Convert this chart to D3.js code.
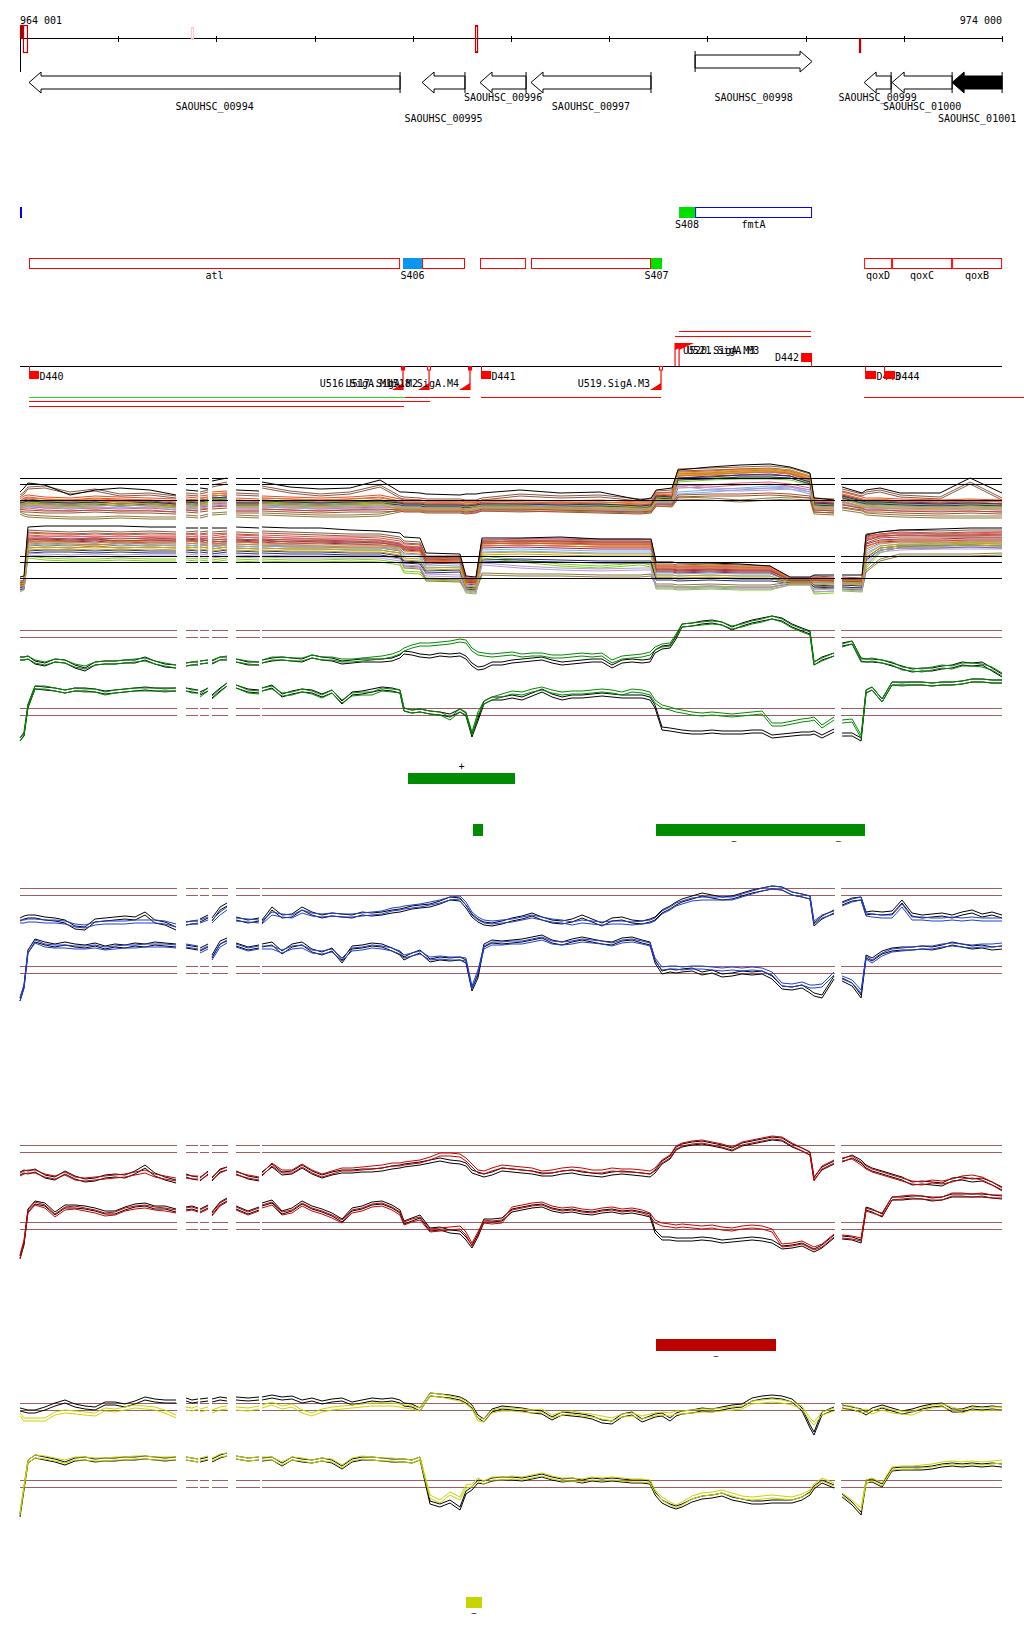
<!DOCTYPE html>
<html>
<head>
<meta charset="utf-8">
<script src="https://cdn.jsdelivr.net/npm/d3@7"></script>
<style>
html,body{margin:0;padding:0;background:#fff;}
svg text{font-family:"DejaVu Sans Mono","Liberation Mono",monospace;font-size:10px;fill:#000;}
</style>
</head>
<body>
<svg id="chart" width="1024" height="1640"></svg>
<script>
// ================= DATA =================
const axisTicks = [964001,965000,966000,967000,968000,969000,970000,971000,972000,973000,974000];
const axisLabels = ["964 001","974 000"];

const geneNames   = ["SAOUHSC_00994","SAOUHSC_00995","SAOUHSC_00996","SAOUHSC_00997","SAOUHSC_00998","SAOUHSC_00999","SAOUHSC_01000","SAOUHSC_01001"];
const geneStarts  = [964093,968095,968685,969204,970875,972596,972881,973492];
const geneEnds    = [967871,968532,969154,970426,972066,972871,973492,974001];
const geneStrands = ["-","-","-","-","+","-","-","-"];
const geneLabelRows = [1,2,0,1,0,0,1,2];
const geneFilled  = [false,false,false,false,false,false,false,true];

const axisMarkStarts = [964001,964031,965742,968634,972544];
const axisMarkEnds   = [964042,964082,965772,968665,972565];
const axisMarkKinds  = ["fill","tall","faint","tall","low"];

const featNames  = ["","S408","fmtA","atl","S406","","","","S407","qoxD","qoxC","qoxB"];
const featStarts = [964001,970712,970875,964093,967901,968095,968685,969204,970426,972596,972881,973492];
const featEnds   = [964021,970875,972066,967871,968095,968532,969154,970426,970538,972881,973492,974001];
const featRows   = [0,0,0,1,1,1,1,1,1,1,1,1];
const featTypes  = ["blue","green","blue","red","cyan","red","red","red","green","red","red","red"];

const boxNames   = ["D440","D441","D442","D443","D444"];
const boxStarts  = [964093,968695,971954,972606,972799];
const boxEnds    = [964194,968797,972066,972718,972911];
const boxStrands = ["-","-","+","-","-"];

const promNames   = ["U516.SigA.M1","U517.SigA.M2","U518.SigA.M4","U519.SigA.M3","U520.SigA.M3","U521.SigA.M3"];
const promPos     = [967901,968166,968583,970528,970671,970712];
const promStrands = ["-","-","-","-","+","+"];
const promFilled  = [true,false,true,false,true,true];

const txStarts = [964093,967921,968695,972596,964093,964093,970712,970671];
const txEnds   = [967921,968583,970528,974225,968176,967911,972056,972056];
const txRows   = [0,0,0,0,1,2,-2,-1];
const txColors = ["#22dd22","#ff0000","#ff0000","#ff0000","#ff0000","#ff0000","#ff0000","#ff0000"];

const dataSegments = [[964001,965600],[965691,965814],[965834,965925],[965956,966119],[966201,966445],[966465,972300],[972360,974000]];

// sampling grid for the two-colour profile tracks
const gridPos = [964001,964042,964082,964154,964255,964357,964459,964561,964663,964765,
964867,964968,965070,965172,965274,965374,965477,965590,965640,965691,
965752,965814,965824,965834,965916,965936,965956,966038,966109,966160,
966201,966323,966435,966455,966465,966567,966669,966771,966873,966974,
967076,967178,967280,967382,967484,967585,967687,967789,967870,967911,
967992,968074,968176,968277,968379,968481,968542,968603,968664,968725,
968807,968909,969011,969113,969215,969316,969418,969520,969622,969724,
969826,969927,970029,970131,970233,970335,970416,970467,970538,970620,
970681,970742,970844,970946,971048,971149,971251,971353,971455,971557,
971659,971760,971862,971964,972045,972086,972167,972290,972331,972372,
972474,972565,972616,972677,972779,972880,972982,973084,973186,973288,
973390,973492,973593,973695,973797,973899,974000];

// green track
const greenUpBlack = [4.3,4.3,4.4,3.9,3.7,4.1,4.0,3.5,3.2,3.8, 3.9,3.9,4.0,4.0,4.3,3.9,3.6,3.5,null,3.7, 3.8,3.8,null,3.9,4.0,null,3.9,4.3,4.3,null, 4.1,3.8,3.8,null,4.0,4.2,4.3,4.2,4.1,4.5, 4.3,4.2,3.9,4.0,4.1,4.1,4.1,4.2,4.5,4.9, 4.8,4.6,4.5,4.7,4.6,4.7,4.4,3.7,3.3,3.4, 3.8,3.8,4.0,4.1,4.2,4.3,4.0,3.8,3.9,4.0, 4.1,4.1,3.5,4.0,4.1,4.0,4.1,5.0,5.4,5.5, 6.4,7.6,7.7,7.9,8.0,7.8,7.3,7.7,8.0,8.2, 8.4,8.2,7.6,7.2,6.9,3.8,4.3,4.7,null,5.7, 5.9,4.2,4.1,4.1,4.0,3.7,3.4,3.1,3.2,3.2, 3.4,3.5,3.8,3.7,3.8,3.2,2.6];
const greenUpColor = [4.3,4.3,4.4,4.0,3.8,4.1,4.0,3.6,3.4,3.8, 3.9,3.9,4.0,4.1,4.2,3.9,3.7,3.5,null,3.7, 3.8,3.9,null,3.9,4.0,null,4.0,4.3,4.4,null, 4.1,3.9,3.8,null,4.0,4.3,4.3,4.2,4.2,4.5, 4.3,4.3,4.1,4.1,4.2,4.3,4.4,4.6,4.9,5.2, 5.5,5.7,5.7,5.8,5.9,6.1,6.0,5.2,4.8,4.7, 4.6,4.7,4.8,4.6,4.7,4.7,4.5,4.5,4.6,4.7, 4.6,4.7,4.0,4.4,4.5,4.6,4.8,5.3,5.6,5.7, 6.6,7.6,7.7,7.8,7.9,7.8,7.4,7.6,7.9,8.1, 8.4,8.1,7.5,7.1,6.8,3.8,4.2,4.7,null,5.6, 5.9,4.1,4.1,4.2,4.0,3.8,3.3,3.2,3.1,3.3, 3.5,3.4,3.7,3.7,3.6,3.3,2.7];
const greenLoBlack = [4.0,4.5,7.3,9.2,9.1,9.0,8.8,9.0,9.0,8.9, 8.7,8.8,8.9,9.0,9.1,9.0,9.0,9.0,null,9.0, 8.9,8.8,null,8.6,9.0,null,8.3,9.0,9.5,null, 9.3,8.9,8.8,null,9.0,9.3,8.4,8.7,8.9,8.8, 8.4,8.8,7.7,8.6,8.7,8.9,9.1,9.0,8.8,7.0, 6.8,6.9,6.7,6.6,6.4,6.9,6.5,4.4,6.0,7.7, 8.1,8.1,8.3,8.1,8.5,8.9,8.4,8.1,8.3,8.3, 8.4,8.5,8.4,8.3,8.3,8.3,8.1,7.3,5.1,5.0, 4.9,4.8,4.7,4.7,4.8,4.7,4.7,4.7,4.8,4.8, 4.3,4.4,4.5,4.6,4.6,4.7,4.3,4.9,null,4.5, 4.5,4.0,8.8,9.1,7.9,9.6,9.6,9.6,9.6,9.5, 9.6,9.6,9.7,9.9,9.9,9.8,9.8];
const greenLoColor = [4.0,4.6,7.4,9.2,9.2,9.0,8.8,9.0,8.9,8.9, 8.6,8.8,8.9,9.0,9.0,9.0,8.9,9.0,null,9.0, 8.8,8.8,null,8.4,9.0,null,8.2,8.9,9.5,null, 9.3,8.8,8.7,null,9.0,9.2,8.5,8.6,8.9,8.7, 8.3,8.8,7.8,8.5,8.6,8.6,9.0,8.9,8.8,7.0, 6.8,6.9,6.7,6.6,6.1,6.9,6.6,4.6,6.6,7.7, 8.1,8.4,8.7,8.6,8.9,9.1,8.8,8.6,8.7,8.7, 8.8,8.9,8.8,8.6,8.9,8.8,8.6,7.8,7.3,7.1, 6.9,6.8,6.6,6.5,6.6,6.5,6.4,6.5,6.6,6.7, 5.5,5.5,5.7,5.9,6.0,6.1,5.3,6.1,null,5.8, 5.9,4.3,8.8,9.1,7.9,9.6,9.5,9.6,9.6,9.5, 9.6,9.6,9.7,9.9,9.9,9.8,9.8];

// blue track
const blueUpBlack = [4.0,4.2,4.3,4.3,4.1,4.0,3.8,3.2,3.1,3.9, 4.0,4.1,4.2,4.1,4.6,3.8,3.6,3.1,null,3.6, 3.7,3.7,null,3.9,4.3,null,4.0,5.1,5.5,null, 4.1,3.8,4.0,null,3.8,5.1,4.3,4.4,5.1,4.6, 4.3,4.5,4.4,4.3,4.6,4.5,4.6,4.8,4.9,5.0, 5.2,5.3,5.4,5.7,6.1,6.0,5.3,4.4,3.9,3.6, 3.5,3.7,4.0,4.2,4.5,4.1,3.8,3.7,3.9,4.3, 3.9,3.5,4.0,4.1,3.8,3.7,3.9,4.1,4.8,5.2, 5.6,5.9,6.2,6.5,6.3,6.1,6.2,6.5,6.8,7.0, 7.2,7.1,6.6,6.4,6.2,3.5,4.2,4.8,null,5.6, 6.0,6.1,4.6,4.7,4.6,4.7,5.8,4.5,4.3,4.4, 4.5,4.3,4.6,4.8,4.4,4.6,4.3];
const blueUpColor = [3.8,3.8,3.9,3.9,3.8,3.8,3.7,3.4,3.3,3.6, 3.7,3.7,3.7,3.8,3.8,3.8,3.7,3.4,null,3.6, 3.7,3.8,null,3.8,4.1,null,3.8,4.6,5.1,null, 4.0,3.9,3.8,null,3.7,4.6,4.4,4.3,4.8,4.5, 4.4,4.5,4.4,4.4,4.5,4.6,4.7,5.0,5.1,5.2, 5.3,5.4,5.6,5.8,6.1,6.2,5.6,4.6,4.1,3.8, 3.7,3.8,3.9,4.1,4.3,4.1,3.9,3.8,3.6,3.8, 3.7,3.6,3.7,3.7,3.6,3.7,3.8,4.0,4.7,5.1, 5.5,5.7,6.0,6.1,6.1,6.1,6.1,6.4,6.7,7.0, 7.2,7.1,6.6,6.4,6.2,3.7,4.3,4.7,null,5.5, 5.9,6.1,4.5,4.4,4.3,4.3,5.4,4.1,4.1,4.0, 4.0,4.1,4.0,4.1,4.0,4.0,4.0];
const blueLoBlack = [3.8,5.1,8.6,9.7,9.4,9.2,9.4,9.2,9.1,9.3, 9.0,9.2,9.1,9.3,9.2,9.4,9.3,9.2,null,9.1, 9.0,8.9,null,8.8,9.2,null,8.1,9.5,9.8,null, 9.3,8.9,9.1,null,9.2,9.4,8.5,9.2,9.4,8.7, 8.4,8.8,7.6,9.0,9.1,9.3,9.2,8.8,8.4,7.9, 8.3,8.6,7.7,7.9,7.8,7.9,7.6,4.8,6.1,9.2, 9.6,9.5,9.6,9.7,9.9,10.1,9.6,9.4,9.7,9.9, 9.7,9.5,9.4,9.8,9.9,9.6,9.4,7.6,6.5,6.7, 6.6,6.7,6.8,6.4,6.6,6.2,6.3,6.5,6.4,6.5, 6.0,5.0,4.9,5.1,4.6,4.3,4.1,6.0,null,5.8, 5.3,4.1,8.1,7.8,8.5,8.8,8.9,8.9,9.0,8.9, 9.1,9.4,9.2,9.0,9.1,8.9,9.0];
const blueLoColor = [3.8,5.1,8.6,9.6,9.2,9.1,9.1,9.0,9.0,9.1, 8.9,9.0,9.1,9.1,9.2,9.2,9.2,9.1,null,9.2, 9.1,9.0,null,8.6,9.0,null,7.9,9.2,9.6,null, 9.2,8.8,9.0,null,9.0,9.0,8.6,9.0,9.1,8.6, 8.5,8.7,7.8,8.8,8.9,9.1,9.0,8.8,8.5,8.1, 8.3,8.5,7.9,8.0,7.9,7.9,7.8,5.0,6.6,9.0, 9.4,9.4,9.5,9.5,9.7,9.9,9.5,9.4,9.5,9.7, 9.6,9.5,9.3,9.6,9.7,9.5,9.3,7.8,6.9,7.0, 7.0,6.9,7.0,7.0,6.9,6.8,6.9,6.8,6.9,6.8, 6.4,5.3,5.2,5.4,5.1,5.1,5.2,6.4,null,6.0, 5.6,4.6,8.0,7.6,8.3,8.7,8.8,8.9,9.0,9.0, 9.2,9.3,9.2,9.1,9.2,9.2,9.3];

// red track
const redUpBlack = [4.3,4.5,4.4,4.6,4.0,3.8,4.4,3.9,3.6,3.7, 4.0,4.1,4.0,4.4,5.0,4.2,3.8,3.5,null,4.1, 3.9,3.8,null,3.7,4.4,null,3.7,4.6,4.8,null, 4.4,3.9,3.7,null,4.3,5.1,4.3,4.4,5.0,4.4, 4.0,4.3,4.5,4.5,4.6,4.6,4.7,4.9,5.0,5.1, 5.2,5.3,5.5,5.7,5.5,5.4,5.2,4.5,4.3,4.1, 4.3,4.7,4.6,4.5,4.4,4.2,4.2,4.4,4.5,4.3, 4.2,4.1,4.3,4.4,4.3,4.2,4.1,4.5,5.4,5.9, 6.8,7.1,7.3,7.4,7.2,7.0,6.7,7.2,7.4,7.6, 7.8,7.7,7.1,6.7,6.3,3.8,4.8,5.4,null,5.6, 6.0,5.5,5.0,4.7,4.4,4.1,3.8,3.3,3.4,3.3, 3.2,3.7,3.8,3.6,3.7,3.3,2.8];
const redUpColor = [4.2,4.4,4.5,4.5,4.1,3.9,4.3,3.8,3.7,3.8, 3.9,4.0,4.1,4.3,4.5,4.1,3.9,3.7,null,4.0, 3.9,3.9,null,3.8,4.3,null,3.8,4.5,4.8,null, 4.3,4.0,3.8,null,4.2,5.2,4.5,4.5,5.1,4.5, 4.1,4.4,4.7,4.7,4.8,4.9,5.0,5.2,5.2,5.3, 5.4,5.5,5.8,6.2,6.2,6.1,5.7,5.1,4.5,4.4, 4.7,5.0,4.9,4.8,4.7,4.4,4.5,4.7,4.8,4.7, 4.5,4.5,4.7,4.6,4.6,4.5,4.4,4.7,5.5,6.0, 6.9,7.2,7.4,7.5,7.3,7.1,6.8,7.3,7.5,7.7, 7.9,7.8,7.2,6.7,6.3,3.7,4.9,5.5,null,5.7, 5.9,5.3,4.9,4.6,4.3,4.0,3.7,3.4,3.3,3.5, 3.4,3.6,3.9,4.0,3.8,3.3,2.7];
const redLoBlack = [3.6,5.0,8.3,9.1,8.9,8.0,8.7,8.7,8.6,8.4, 8.1,8.1,8.5,8.8,8.9,8.6,8.6,8.3,null,8.5, 8.6,8.4,null,8.3,8.7,null,8.0,9.0,9.4,null, 8.6,8.1,8.5,null,8.9,9.2,8.1,8.4,9.1,8.6, 8.3,7.9,7.3,8.4,8.6,9.0,9.1,8.7,8.2,7.1, 7.4,7.7,6.4,6.5,6.2,6.1,5.5,4.7,5.8,7.3, 7.3,7.4,8.3,8.5,8.7,8.8,8.4,8.2,8.3,8.1, 8.0,8.2,8.3,8.1,8.2,8.0,7.8,6.2,5.5,5.5, 5.4,5.4,5.4,5.5,5.4,5.2,5.3,5.4,5.5,5.4, 5.2,4.6,4.7,4.9,4.5,4.3,4.7,5.7,null,5.6, 5.5,5.2,8.5,8.3,7.8,9.5,9.5,9.6,9.6,9.4, 9.5,9.8,9.8,9.8,9.8,9.7,9.6];
const redLoColor = [3.7,5.2,8.2,9.0,8.7,7.8,8.5,8.6,8.4,8.2, 7.9,8.0,8.4,8.6,8.7,8.5,8.4,8.2,null,8.4, 8.5,8.3,null,8.2,8.6,null,7.9,8.9,9.3,null, 8.5,8.0,8.4,null,8.7,9.0,8.0,8.2,8.9,8.4, 8.1,7.7,7.2,8.2,8.4,8.8,8.9,8.5,8.0,7.0, 7.3,7.5,6.3,6.4,6.5,6.6,6.0,4.9,6.0,7.2, 7.1,7.2,8.5,8.7,8.9,9.0,8.6,8.4,8.5,8.3, 8.2,8.4,8.5,8.3,8.4,8.2,7.9,7.2,6.9,6.8, 6.7,6.8,6.7,6.6,6.7,6.5,6.4,6.6,6.7,6.6, 6.3,4.8,4.9,5.1,4.7,4.5,4.8,5.8,null,5.7, 5.6,5.4,8.4,8.2,7.9,9.5,9.6,9.7,9.6,9.5, 9.5,9.9,9.9,9.8,9.9,9.7,9.7];

// yellow track
const yellowUpBlack = [6.5,6.4,6.3,6.3,6.6,7.0,7.3,6.9,6.7,6.6, 7.1,7.1,6.9,7.2,7.6,7.4,7.3,7.3,null,7.5, 7.3,7.4,null,7.4,7.5,null,7.4,7.6,7.5,null, 7.6,7.5,7.6,null,7.6,7.8,7.6,7.7,7.3,7.5, 7.2,7.4,7.5,7.1,7.3,7.5,7.4,7.5,7.3,7.0, 6.9,6.5,8.0,7.9,7.8,7.6,7.3,6.8,5.8,5.4, 6.4,6.7,6.6,6.5,6.3,6.2,5.6,6.1,6.0,5.9, 5.7,5.3,5.2,5.9,6.1,5.4,5.7,5.9,6.0,5.5, 6.0,6.2,6.3,6.5,6.4,6.6,6.8,6.9,7.5,7.7, 7.8,7.7,7.4,6.5,4.8,4.1,6.1,6.6,null,6.8, 6.6,6.4,6.1,6.5,6.8,6.5,6.2,6.4,6.7,6.9, 7.0,6.4,6.4,6.7,6.6,6.7,6.6];
const yellowUpColor = [6.0,5.5,5.5,5.5,5.5,6.1,6.3,6.2,6.1,6.0, 6.5,6.4,6.6,6.8,6.7,6.6,6.3,5.8,null,6.6, 6.5,6.7,null,6.4,6.6,null,6.3,6.6,6.7,null, 6.6,6.5,6.7,null,6.8,7.1,6.7,6.9,6.3,6.0, 6.4,6.6,6.7,6.8,6.9,7.0,7.0,7.0,6.9,6.8, 6.7,6.5,8.0,7.9,7.7,7.5,7.2,6.7,5.5,5.4, 6.3,6.5,6.5,6.4,6.3,6.4,5.8,6.1,6.2,6.0, 5.9,5.7,5.5,5.9,6.0,5.7,5.9,6.0,6.1,6.0, 6.2,6.2,6.3,6.4,6.4,6.5,6.6,6.7,7.2,7.3, 7.4,7.3,7.1,6.7,5.5,5.1,6.1,6.5,null,6.7, 6.7,6.3,6.4,6.2,6.6,6.3,6.2,6.1,6.5,6.8, 6.9,6.6,6.3,6.6,6.5,6.6,6.6];
const yellowLoBlack = [3.6,6.3,9.0,9.5,9.3,9.1,8.8,9.2,9.3,9.1, 9.2,9.2,9.3,9.3,9.4,9.3,9.2,9.3,null,9.3, 9.2,9.1,null,9.1,9.3,null,9.1,9.5,9.7,null, 9.4,9.2,9.3,null,9.2,9.3,8.7,9.3,9.1,9.0, 9.2,9.0,8.4,9.1,9.3,9.3,9.2,9.1,9.1,9.1, 9.0,9.3,4.9,4.6,5.0,4.3,5.9,6.3,7.0,6.9, 7.2,7.3,7.3,7.2,7.4,7.6,7.3,7.1,7.2,7.0, 7.2,7.1,7.2,7.1,7.0,7.0,6.9,5.8,5.0,4.6, 4.4,4.6,5.1,5.4,5.5,5.7,5.3,5.1,4.9,4.9, 5.0,5.0,5.0,5.3,5.8,6.4,7.0,6.5,null,5.6, 4.8,3.8,7.0,7.1,6.6,8.2,8.3,8.3,8.3,8.4, 8.6,8.7,8.6,8.7,8.6,8.7,8.6];
const yellowLoColor = [3.8,6.5,9.0,9.5,9.4,9.2,9.0,9.3,9.3,9.2, 9.2,9.3,9.3,9.4,9.4,9.3,9.3,9.3,null,9.3, 9.2,9.1,null,9.2,9.4,null,9.2,9.6,9.7,null, 9.4,9.2,9.3,null,9.3,9.3,8.8,9.3,9.2,9.0, 9.2,9.1,8.5,9.2,9.4,9.3,9.2,9.2,9.1,9.1, 9.0,9.3,5.5,5.0,5.8,5.3,6.5,6.6,7.2,6.9, 7.3,7.3,7.4,7.3,7.5,7.7,7.4,7.2,7.2,7.1, 7.3,7.2,7.3,7.2,7.1,7.1,7.0,6.0,5.3,4.8, 4.5,4.8,5.4,5.7,5.8,6.0,5.7,5.4,5.3,5.4, 5.5,5.4,5.3,5.6,6.0,6.6,7.2,6.7,null,5.7, 5.0,4.2,7.0,7.2,6.7,8.3,8.4,8.4,8.5,8.6, 8.8,8.9,8.8,8.9,8.8,8.9,9.0];

const profileThresholds = [7.0, 6.3];

// multi-condition track (coarser grid)
const multiPos = [964001,964042,964082,964255,964510,964765,965019,965325,965590,965640,
965691,965814,965824,965834,965916,965936,965956,966109,966160,966201,
966435,966455,966465,966750,967056,967361,967667,967870,967911,968074,
968135,968481,968542,968644,968705,969093,969500,969907,970315,970427,
970478,970640,970701,971027,971333,971638,971842,972045,972086,972290,
972331,972372,972575,972616,972758,972962,973369,973675,974000];
const multiColors = ["#8a5a44","#e8502a","#9e1f63","#7fcf1f","#8c7a3c","#6fb3f0","#d95f8a","#e37b1c","#27306b","#b29ad6","#a0522d","#c5a21b"];
const multiThresholds = [6.0, 5.4, 3.8];

const multiUpBlack = [4.6,5.0,5.5,5.3,4.3,4.8,5.0,4.8,4.3,null, 4.8,4.7,null,5.0,4.9,null,5.7,6.0,null,4.8, 4.7,null,5.6,5.1,4.9,5.0,5.8,4.6,4.6,4.5, 4.4,4.3,4.4,4.4,4.5,4.8,4.5,4.6,3.8,4.0, 4.8,5.0,6.8,7.1,7.3,7.4,7.1,6.5,4.0,3.8, null,5.1,4.5,4.8,5.0,4.5,4.5,6.0,4.5];
const multiUp = [
[4.3,4.6,5.1,5.2,4.6,4.9,4.4,4.5,4.2,null, 4.5,4.4,null,4.6,4.8,null,5.3,5.6,null,4.5, 4.4,null,5.2,4.7,4.4,4.6,5.3,4.2,4.1,4.0, 3.9,3.9,3.8,3.8,4.0,4.4,4.2,4.3,3.9,3.9, 4.7,4.8,6.9,7.0,7.1,7.2,7.0,6.4,4.0,3.9, null,4.9,4.4,4.6,4.8,4.3,4.1,5.6,4.0],
[3.9,4.2,4.3,4.1,4.0,4.2,4.1,4.0,3.9,null, 4.1,4.0,null,4.2,4.3,null,4.6,4.7,null,4.0, 3.9,null,4.2,4.1,4.0,4.1,4.3,3.9,3.8,3.8, 3.7,3.7,3.6,3.6,3.8,3.8,3.7,3.8,3.6,3.6, 4.5,4.5,6.6,6.7,6.9,6.9,6.7,6.1,3.8,3.7, null,4.6,4.1,4.0,4.0,3.9,3.8,3.9,3.8],
[3.6,3.8,3.9,3.7,3.6,3.8,3.6,3.7,3.5,null, 3.7,3.6,null,3.8,3.9,null,4.2,4.3,null,3.6, 3.6,null,3.8,3.7,3.6,3.7,3.8,3.6,3.5,3.5, 3.4,3.4,3.3,3.4,3.5,3.4,3.5,3.4,3.3,3.4, 4.3,4.2,6.2,6.4,6.5,6.6,6.4,5.8,3.6,3.5, null,4.3,3.8,3.7,3.7,3.6,3.5,3.6,3.4],
[3.4,3.5,3.6,3.5,3.4,3.5,3.4,3.5,3.3,null, 3.5,3.4,null,3.5,3.7,null,3.9,4.0,null,3.4, 3.4,null,3.6,3.5,3.4,3.5,3.6,3.4,3.3,3.3, 3.2,3.2,3.1,3.2,3.3,3.3,3.2,3.3,3.1,3.2, 4.1,4.0,5.8,6.0,6.1,6.1,6.0,5.5,3.4,3.3, null,4.1,3.6,3.5,3.5,3.4,3.3,3.4,3.3],
[2.6,2.4,2.3,2.2,2.1,2.1,2.2,2.1,2.1,null, 2.3,2.2,null,2.2,2.4,null,2.5,2.6,null,2.3, 2.2,null,2.5,2.4,2.3,2.3,2.4,2.8,2.9,2.9, 2.8,2.8,2.7,2.8,2.9,2.8,2.9,2.8,2.7,2.8, 3.4,3.3,4.1,4.0,3.8,4.0,4.1,4.0,2.6,2.5, null,3.0,2.7,2.5,2.4,2.3,2.2,2.2,2.2],
[3.2,3.3,3.3,3.2,3.3,3.2,3.3,3.2,3.2,null, 3.3,3.2,null,3.3,3.4,null,3.6,3.7,null,3.3, 3.2,null,3.4,3.3,3.2,3.3,3.3,3.3,3.2,3.2, 3.1,3.1,3.0,3.0,3.3,3.3,3.2,3.2,3.0,3.1, 3.7,3.6,4.6,4.8,5.0,5.2,5.1,4.6,3.3,3.2, null,3.8,3.4,3.4,3.3,3.3,3.3,3.3,3.2],
[3.0,3.1,3.2,3.0,2.9,3.0,2.9,3.0,2.8,null, 3.0,2.9,null,3.1,3.2,null,3.4,3.5,null,2.9, 2.9,null,3.1,3.0,2.9,3.0,3.1,3.0,2.9,2.9, 2.9,2.9,2.8,2.8,3.0,3.0,3.0,2.9,2.8,2.9, 3.6,3.5,5.2,5.3,5.5,5.6,5.4,5.0,3.0,2.9, null,3.6,3.1,3.0,3.0,2.9,2.9,2.9,2.8],
[3.7,3.9,4.0,3.9,3.8,3.9,3.8,3.8,3.6,null, 3.8,3.8,null,3.9,4.1,null,4.4,4.5,null,3.8, 3.7,null,4.0,3.9,3.8,3.9,4.0,3.7,3.6,3.6, 3.6,3.5,3.5,3.5,3.7,3.6,3.6,3.6,3.5,3.5, 4.4,4.3,6.4,6.5,6.7,6.8,6.6,5.9,3.7,3.6, null,4.4,3.9,3.8,3.9,3.7,3.6,3.8,3.6],
[3.5,3.6,3.7,3.6,3.5,3.6,3.4,3.6,3.4,null, 3.6,3.5,null,3.6,3.8,null,4.0,4.1,null,3.5, 3.5,null,3.7,3.6,3.5,3.6,3.7,3.5,3.4,3.4, 3.3,3.3,3.2,3.3,3.4,3.4,3.3,3.4,3.2,3.3, 4.2,4.1,6.0,6.1,6.3,6.3,6.2,5.6,3.5,3.4, null,4.2,3.7,3.6,3.6,3.5,3.4,3.5,3.4],
[3.1,3.2,3.4,3.3,3.1,3.3,3.2,3.3,3.0,null, 3.1,3.1,null,3.2,3.3,null,3.5,3.6,null,3.1, 3.1,null,3.3,3.2,3.1,3.1,3.2,3.2,3.1,3.1, 3.0,3.0,2.9,3.0,3.1,3.1,3.1,3.0,2.9,3.0, 3.8,3.7,5.4,5.0,4.9,5.0,5.1,4.8,3.1,3.0, null,3.7,3.2,3.2,3.1,3.1,3.0,3.1,3.0],
[2.9,2.8,2.8,2.7,2.7,2.8,2.7,2.7,2.6,null, 2.8,2.7,null,2.8,2.9,null,3.1,3.2,null,2.7, 2.7,null,2.9,2.8,2.7,2.8,2.8,2.9,2.8,2.8, 2.7,2.7,2.6,2.7,2.9,2.9,2.8,2.7,2.6,2.7, 3.4,3.4,4.3,4.4,4.4,4.5,4.4,4.2,2.8,2.7, null,3.3,3.0,2.8,2.8,2.7,2.6,2.7,2.6],
[3.3,3.4,3.5,3.4,3.3,3.4,3.5,3.4,3.2,null, 3.4,3.3,null,3.4,3.6,null,3.8,3.8,null,3.3, 3.3,null,3.5,3.4,3.3,3.4,3.5,3.1,3.0,3.0, 3.0,3.0,2.9,3.1,3.2,3.2,3.1,3.1,3.0,3.0, 3.9,3.8,6.5,6.6,6.8,6.9,6.8,6.2,3.2,3.1, null,3.9,3.3,3.3,3.2,3.2,3.1,3.2,3.1]
];
const multiLoBlack = [3.9,4.0,8.9,9.0,9.0,9.0,9.0,8.9,8.9,null, 8.8,8.8,null,8.8,8.8,null,8.8,8.8,null,8.9, 8.8,null,8.9,8.8,8.8,8.6,8.5,8.3,7.9,7.8, 6.3,6.2,4.0,3.9,7.8,7.8,7.9,7.7,7.7,7.7, 5.4,5.4,5.3,5.3,5.2,5.0,3.9,3.9,4.1,4.1, null,4.1,4.1,8.1,8.4,8.6,8.7,8.8,8.8];
const multiLo = [
[3.5,3.6,8.6,8.5,8.4,8.5,8.4,8.5,8.4,null, 8.4,8.5,null,8.4,8.5,null,8.4,8.5,null,8.4, 8.3,null,8.5,8.4,8.3,8.2,8.2,7.9,7.5,7.4, 6.0,6.0,3.8,3.7,7.6,7.7,7.7,7.6,7.6,7.6, 5.2,5.2,5.1,5.2,5.1,5.0,3.8,3.8,4.0,3.9, null,3.9,3.8,8.2,8.4,8.6,8.5,8.6,8.6],
[3.3,3.4,8.3,8.2,8.2,8.1,8.2,8.1,8.1,null, 8.2,8.1,null,8.2,8.1,null,8.0,8.2,null,8.1, 8.0,null,8.1,8.0,7.9,7.9,7.8,7.5,7.2,7.1, 5.7,5.8,3.6,3.5,7.4,7.5,7.4,7.3,7.3,7.3, 4.9,4.9,4.8,4.9,4.8,4.8,3.7,3.7,3.8,3.7, null,3.7,3.6,7.9,8.2,8.3,8.2,8.3,8.4],
[3.1,3.2,7.6,7.7,7.6,7.7,7.5,7.6,7.6,null, 7.7,7.6,null,7.7,7.5,null,7.4,7.5,null,7.6, 7.5,null,7.6,7.4,7.5,7.4,7.3,7.1,6.8,6.7, 5.4,5.5,3.4,3.3,7.0,7.1,7.0,6.9,6.9,6.9, 4.6,4.6,4.5,4.6,4.5,4.5,3.6,3.6,3.6,3.5, null,3.5,3.4,7.2,7.6,7.7,7.7,7.8,7.8],
[2.6,2.8,6.0,5.8,5.7,5.7,5.8,5.7,5.7,null, 5.8,5.7,null,5.8,5.7,null,5.6,5.8,null,5.7, 5.6,null,5.7,5.6,5.6,5.7,5.6,5.3,4.5,4.4, 3.8,3.7,2.5,2.4,6.0,5.6,5.2,5.0,5.3,5.1, 2.9,2.9,2.8,2.9,2.8,2.8,3.3,3.3,2.4,2.5, null,2.7,2.6,5.0,6.5,7.1,7.3,7.4,7.4],
[2.9,3.0,7.0,7.1,7.0,7.2,7.0,7.1,7.0,null, 7.0,7.1,null,7.1,7.0,null,6.9,7.1,null,7.0, 6.9,null,7.0,6.9,6.9,6.8,6.8,6.5,5.0,4.9, 3.7,3.6,2.8,2.7,4.3,4.2,4.2,4.1,4.1,4.2, 3.2,3.2,3.1,3.2,3.1,3.1,3.4,3.4,2.9,3.0, null,2.9,2.8,4.6,5.7,6.2,6.2,6.2,6.3],
[3.0,3.1,7.3,7.4,7.3,7.3,7.4,7.2,7.3,null, 7.3,7.2,null,7.3,7.2,null,7.1,7.3,null,7.2, 7.1,null,7.2,7.1,7.0,7.0,7.0,6.8,6.2,6.1, 5.0,5.1,3.1,3.0,6.6,6.7,6.6,6.5,6.5,6.5, 4.3,4.3,4.2,4.3,4.2,4.2,3.5,3.5,3.3,3.2, null,3.3,3.2,6.5,7.2,7.4,7.3,7.5,7.4],
[3.4,3.5,8.0,7.9,8.0,7.9,8.0,7.9,7.9,null, 7.9,8.0,null,7.9,7.9,null,7.8,7.9,null,7.9, 7.8,null,7.9,7.8,7.7,7.7,7.6,7.3,7.0,6.9, 5.9,6.0,3.9,3.8,7.6,7.7,7.8,7.7,7.7,7.6, 5.0,5.0,4.9,5.0,4.9,4.9,3.8,3.8,3.9,3.8, null,3.8,3.7,7.8,8.1,8.3,8.2,8.2,8.3],
[3.2,3.3,7.4,7.5,7.4,7.3,7.5,7.4,7.4,null, 7.4,7.5,null,7.4,7.3,null,7.2,7.4,null,7.4, 7.3,null,7.3,7.2,7.2,7.1,7.1,6.9,6.5,6.4, 5.6,5.7,3.5,3.4,7.2,7.3,7.2,7.1,7.1,7.1, 5.1,5.1,5.0,5.1,5.0,5.0,3.7,3.7,3.7,3.6, null,3.6,3.5,6.9,7.5,7.6,7.6,7.6,7.6],
[2.8,2.9,6.5,6.6,6.6,6.5,6.6,6.5,6.5,null, 6.6,6.5,null,6.6,6.5,null,6.4,6.6,null,6.5, 6.4,null,6.5,6.4,6.4,6.3,6.3,6.0,5.5,5.4, 4.5,4.6,2.9,2.8,5.6,5.7,5.6,5.5,5.5,5.5, 3.8,3.8,3.7,3.8,3.7,3.7,3.5,3.5,3.1,3.0, null,3.1,3.0,5.8,6.8,7.0,7.0,7.1,7.0],
[2.7,2.9,6.3,6.2,6.1,6.2,6.1,6.2,6.2,null, 6.2,6.1,null,6.2,6.1,null,6.0,6.2,null,6.1, 6.0,null,6.1,6.0,6.0,6.0,6.0,5.7,5.1,5.0, 4.2,4.1,2.6,2.5,5.3,5.0,4.8,4.7,4.8,4.8, 3.0,3.0,2.9,3.0,2.9,2.9,3.3,3.3,2.6,2.7, null,2.8,2.7,5.4,6.6,6.8,6.9,6.9,6.9],
[3.3,3.4,7.8,7.8,7.7,7.8,7.7,7.8,7.7,null, 7.8,7.7,null,7.8,7.7,null,7.6,7.7,null,7.7, 7.6,null,7.7,7.6,7.6,7.5,7.5,7.2,6.9,6.8, 5.8,5.9,3.7,3.6,7.5,7.5,7.5,7.4,7.4,7.4, 4.7,4.7,4.6,4.7,4.6,4.6,3.6,3.6,3.8,3.7, null,3.7,3.6,7.5,8.0,8.1,8.1,8.1,8.1],
[3.2,3.3,6.8,6.9,6.8,6.9,6.8,6.9,6.8,null, 6.9,6.8,null,6.9,6.8,null,6.7,6.9,null,6.8, 6.7,null,6.8,6.7,6.7,6.6,6.6,6.3,5.8,5.7, 4.8,4.9,3.0,2.9,6.3,6.4,6.3,6.2,6.2,6.2, 4.1,4.1,4.0,4.1,4.0,4.0,3.4,3.4,3.4,3.3, null,3.4,3.3,6.1,7.0,7.2,7.2,7.3,7.2]
];

// significance bars
const greenUpStarts = [967952], greenUpEnds = [969042], greenUpLabels = ["+"];
const greenDownStarts = [968614,970477,972066], greenDownEnds = [968716,972066,972606], greenDownLabels = ["","–","–"];
const redDownStarts = [970477], redDownEnds = [971699], redDownLabels = ["–"];
const yellowDownStarts = [968543], yellowDownEnds = [968706], yellowDownLabels = ["–"];

// ================= DRAWING =================
const svg = d3.select("#chart");
const x = d3.scaleLinear().domain([964001, 974000]).range([20, 1002]);

// --- coordinate axis ---
svg.append("line").attr("x1", x(964001)).attr("x2", x(974000)).attr("y1", 38.5).attr("y2", 38.5)
  .attr("stroke", "#000").attr("shape-rendering", "crispEdges");
const axisG = svg.append("g").attr("transform", "translate(0,35.5)")
  .call(d3.axisBottom(x).tickValues(axisTicks).tickSize(6).tickFormat(""));
axisG.select(".domain").remove();
axisG.selectAll(".tick line").attr("stroke", "#000").attr("shape-rendering", "crispEdges");
svg.append("text").attr("x", x(964001)).attr("y", 20).attr("dy", "0.35em").text(axisLabels[0]);
svg.append("text").attr("x", x(974000)).attr("y", 20).attr("dy", "0.35em").attr("text-anchor", "end").text(axisLabels[1]);

axisMarkStarts.forEach((s, i) => {
  const k = axisMarkKinds[i];
  const a = x(s), b = Math.max(x(axisMarkEnds[i]), a + 2);
  const yy = {fill: [25, 38], tall: [25, 52], faint: [27, 39], low: [38, 52]}[k];
  svg.append("rect").attr("x", a + 0.5).attr("y", yy[0] + 0.5).attr("width", b - a - 1).attr("height", yy[1] - yy[0])
    .attr("fill", k === "fill" ? "#a50000" : "none")
    .attr("stroke", k === "faint" ? "#f6cfc6" : (k === "fill" ? "#a50000" : "#c00000"))
    .attr("stroke-width", 1.2);
});
svg.append("line").attr("x1", x(964001) + 0.5).attr("x2", x(964001) + 0.5).attr("y1", 38).attr("y2", 72).attr("stroke", "#000");

// --- genes ---
const geneGeom = {"-": {top: 72, bot: 93, bt: 76, bb: 89}, "+": {top: 51, bot: 72, bt: 55, bb: 68}};
const geneLabelY = [97, 106, 118];
geneNames.forEach((nm, i) => {
  const a = x(geneStarts[i]), b = x(geneEnds[i]), G = geneGeom[geneStrands[i]];
  const mid = (G.top + G.bot) / 2, head = Math.min(12, (b - a) * 0.6);
  let p;
  if (geneStrands[i] === "-")
    p = `M${b},${G.bt}L${a + head},${G.bt}L${a + head},${G.top}L${a},${mid}L${a + head},${G.bot}L${a + head},${G.bb}L${b},${G.bb}Z`;
  else
    p = `M${a},${G.bt}L${b - head},${G.bt}L${b - head},${G.top}L${b},${mid}L${b - head},${G.bot}L${b - head},${G.bb}L${a},${G.bb}Z`;
  svg.append("path").attr("d", p).attr("fill", geneFilled[i] ? "#000" : "#fff").attr("stroke", "#000").attr("stroke-width", 1);
  const sx = geneStrands[i] === "-" ? b : a;
  svg.append("line").attr("x1", sx).attr("x2", sx).attr("y1", G.top).attr("y2", G.bot).attr("stroke", "#000");
  svg.append("text").attr("x", (a + b) / 2).attr("y", geneLabelY[geneLabelRows[i]]).attr("dy", "0.35em")
    .attr("text-anchor", "middle").text(nm);
});

// --- annotated features ---
const featRowY = [[207, 217, 224], [258, 268, 275]];
featNames.forEach((nm, i) => {
  const a = x(featStarts[i]), b = x(featEnds[i]), R = featRowY[featRows[i]], t = featTypes[i];
  const r = svg.append("rect").attr("x", a + 0.5).attr("y", R[0] + 0.5).attr("width", Math.max(b - a - 1, 1)).attr("height", R[1] - R[0]);
  if (t === "red") r.attr("fill", "#fff").attr("stroke", "#ff0000");
  else if (t === "blue") r.attr("fill", "#fff").attr("stroke", "#0000ff");
  else if (t === "green") r.attr("fill", "#00e000").attr("stroke", "#00e000");
  else if (t === "cyan") r.attr("fill", "#0a96f0").attr("stroke", "#0a96f0");
  if (nm) svg.append("text").attr("x", (a + b) / 2).attr("y", R[2]).attr("dy", "0.35em").attr("text-anchor", "middle").text(nm);
});

// --- transcription units / promoters / terminators ---
svg.append("line").attr("x1", x(964001)).attr("x2", x(974000)).attr("y1", 366.5).attr("y2", 366.5).attr("stroke", "#000");
const txRowY = {"0": 397.5, "1": 401.5, "2": 406.5, "-1": 336.5, "-2": 331.5};
txStarts.forEach((s, i) => {
  svg.append("line").attr("x1", x(s)).attr("x2", x(txEnds[i])).attr("y1", txRowY[txRows[i]]).attr("y2", txRowY[txRows[i]])
    .attr("stroke", txColors[i]).attr("stroke-width", 1.2);
});
boxNames.forEach((nm, i) => {
  const a = x(boxStarts[i]), b = x(boxEnds[i]);
  if (boxStrands[i] === "-") {
    svg.append("line").attr("x1", a + 0.5).attr("x2", a + 0.5).attr("y1", 366).attr("y2", 372).attr("stroke", "#f00");
    svg.append("rect").attr("x", a).attr("y", 371).attr("width", b - a).attr("height", 8).attr("fill", "#f00");
    svg.append("text").attr("x", b + 0.5).attr("y", 376).attr("dy", "0.35em").text(nm);
  } else {
    svg.append("line").attr("x1", b - 0.5).attr("x2", b - 0.5).attr("y1", 361).attr("y2", 367).attr("stroke", "#f00");
    svg.append("rect").attr("x", a).attr("y", 353).attr("width", b - a).attr("height", 9).attr("fill", "#f00");
    svg.append("text").attr("x", a - 2).attr("y", 357).attr("dy", "0.35em").attr("text-anchor", "end").text(nm);
  }
});
promNames.forEach((nm, i) => {
  const p = x(promPos[i]);
  if (promStrands[i] === "-") {
    svg.append("line").attr("x1", p).attr("x2", p).attr("y1", 366).attr("y2", 390).attr("stroke", "#f00").attr("stroke-width", 1.2);
    svg.append("rect").attr("x", p - 1.5).attr("y", 366.5).attr("width", 3).attr("height", 3.5)
      .attr("fill", promFilled[i] ? "#f00" : "#fff").attr("stroke", "#f00");
    svg.append("path").attr("d", `M${p},383L${p},390L${p - 11},390Z`).attr("fill", "#f00");
    svg.append("text").attr("x", p - 11).attr("y", 383).attr("dy", "0.35em").attr("text-anchor", "end").text(nm);
  } else {
    svg.append("line").attr("x1", p).attr("x2", p).attr("y1", 343).attr("y2", 366).attr("stroke", "#f00").attr("stroke-width", 1.2);
    svg.append("path").attr("d", `M${p},343L${p + 15},343L${p},350Z`).attr("fill", "#f00");
    svg.append("text").attr("x", p + 8).attr("y", 350).attr("dy", "0.35em").text(nm);
  }
});

// --- helpers for profile panels ---
function drawRefLines(yS, thresholds, color) {
  dataSegments.forEach(seg => {
    thresholds.forEach(t => {
      const yy = Math.round(yS(t)) + 0.5;
      svg.append("line").attr("x1", x(seg[0])).attr("x2", x(seg[1])).attr("y1", yy).attr("y2", yy)
        .attr("stroke", color).attr("stroke-width", 1.3).attr("shape-rendering", "crispEdges");
    });
  });
}
function drawSeries(pos, vals, yS, color, dup) {
  const pts = pos.map((p, i) => [p, vals[i]]);
  const ln = d3.line().defined(d => d[1] != null).x(d => x(d[0])).y(d => yS(d[1]));
  svg.append("path").attr("d", ln(pts)).attr("fill", "none").attr("stroke", color).attr("stroke-width", 1);
  if (dup) svg.append("path").attr("d", ln(pts)).attr("transform", `translate(0,${dup})`)
    .attr("fill", "none").attr("stroke", color).attr("stroke-width", 1);
}

// --- multi-condition track ---
const multiUpY = d3.scaleLinear().domain([0, 10]).range([538, 438]);
const multiLoY = d3.scaleLinear().domain([0, 10]).range([616, 516]);
multiUp.forEach((s, i) => drawSeries(multiPos, s, multiUpY, multiColors[i % multiColors.length], 2));
multiLo.forEach((s, i) => drawSeries(multiPos, s, multiLoY, multiColors[i % multiColors.length], 2));
drawSeries(multiPos, multiUpBlack, multiUpY, "#000", 0);
drawSeries(multiPos, multiLoBlack, multiLoY, "#000", 0);
drawRefLines(multiUpY, multiThresholds, "#000");
drawRefLines(multiLoY, multiThresholds, "#000");

// --- two-colour profile tracks ---
const profileTracks = [
  {color: "#008c00", upBottom: 700, loBottom: 778, upK: greenUpBlack, upC: greenUpColor, loK: greenLoBlack, loC: greenLoColor},
  {color: "#1f3fd6", upBottom: 958, loBottom: 1036, upK: blueUpBlack, upC: blueUpColor, loK: blueLoBlack, loC: blueLoColor},
  {color: "#cc0000", upBottom: 1215, loBottom: 1292, upK: redUpBlack, upC: redUpColor, loK: redLoBlack, loC: redLoColor},
  {color: "#c8d400", upBottom: 1473, loBottom: 1550, upK: yellowUpBlack, upC: yellowUpColor, loK: yellowLoBlack, loC: yellowLoColor}
];
profileTracks.forEach(T => {
  const yU = d3.scaleLinear().domain([0, 10]).range([T.upBottom, T.upBottom - 100]);
  const yL = d3.scaleLinear().domain([0, 10]).range([T.loBottom, T.loBottom - 100]);
  drawRefLines(yU, profileThresholds, "#9c6060");
  drawRefLines(yL, profileThresholds, "#9c6060");
  drawSeries(gridPos, T.upK, yU, "#000", 3);
  drawSeries(gridPos, T.loK, yL, "#000", 3);
  drawSeries(gridPos, T.upC, yU, T.color, 3);
  drawSeries(gridPos, T.loC, yL, T.color, 3);
});

// --- significance bars ---
function drawBars(starts, ends, labels, color, y0, h, labelY) {
  starts.forEach((s, i) => {
    const a = Math.round(x(s)), b = Math.round(x(ends[i]));
    svg.append("rect").attr("x", a).attr("y", y0).attr("width", b - a).attr("height", h)
      .attr("fill", color).attr("shape-rendering", "crispEdges");
    if (labels[i]) svg.append("text").attr("x", (a + b) / 2).attr("y", labelY).attr("dy", "0.35em")
      .attr("text-anchor", "middle").style("font-size", labels[i] === "+" ? "10px" : "8px").text(labels[i]);
  });
}
drawBars(greenUpStarts, greenUpEnds, greenUpLabels, "#008c00", 773, 11, 766);
drawBars(greenDownStarts, greenDownEnds, greenDownLabels, "#008c00", 824, 12, 841);
drawBars(redDownStarts, redDownEnds, redDownLabels, "#bb0000", 1339, 12, 1356);
drawBars(yellowDownStarts, yellowDownEnds, yellowDownLabels, "#c8d400", 1597, 11, 1613);
</script>
</body>
</html>
